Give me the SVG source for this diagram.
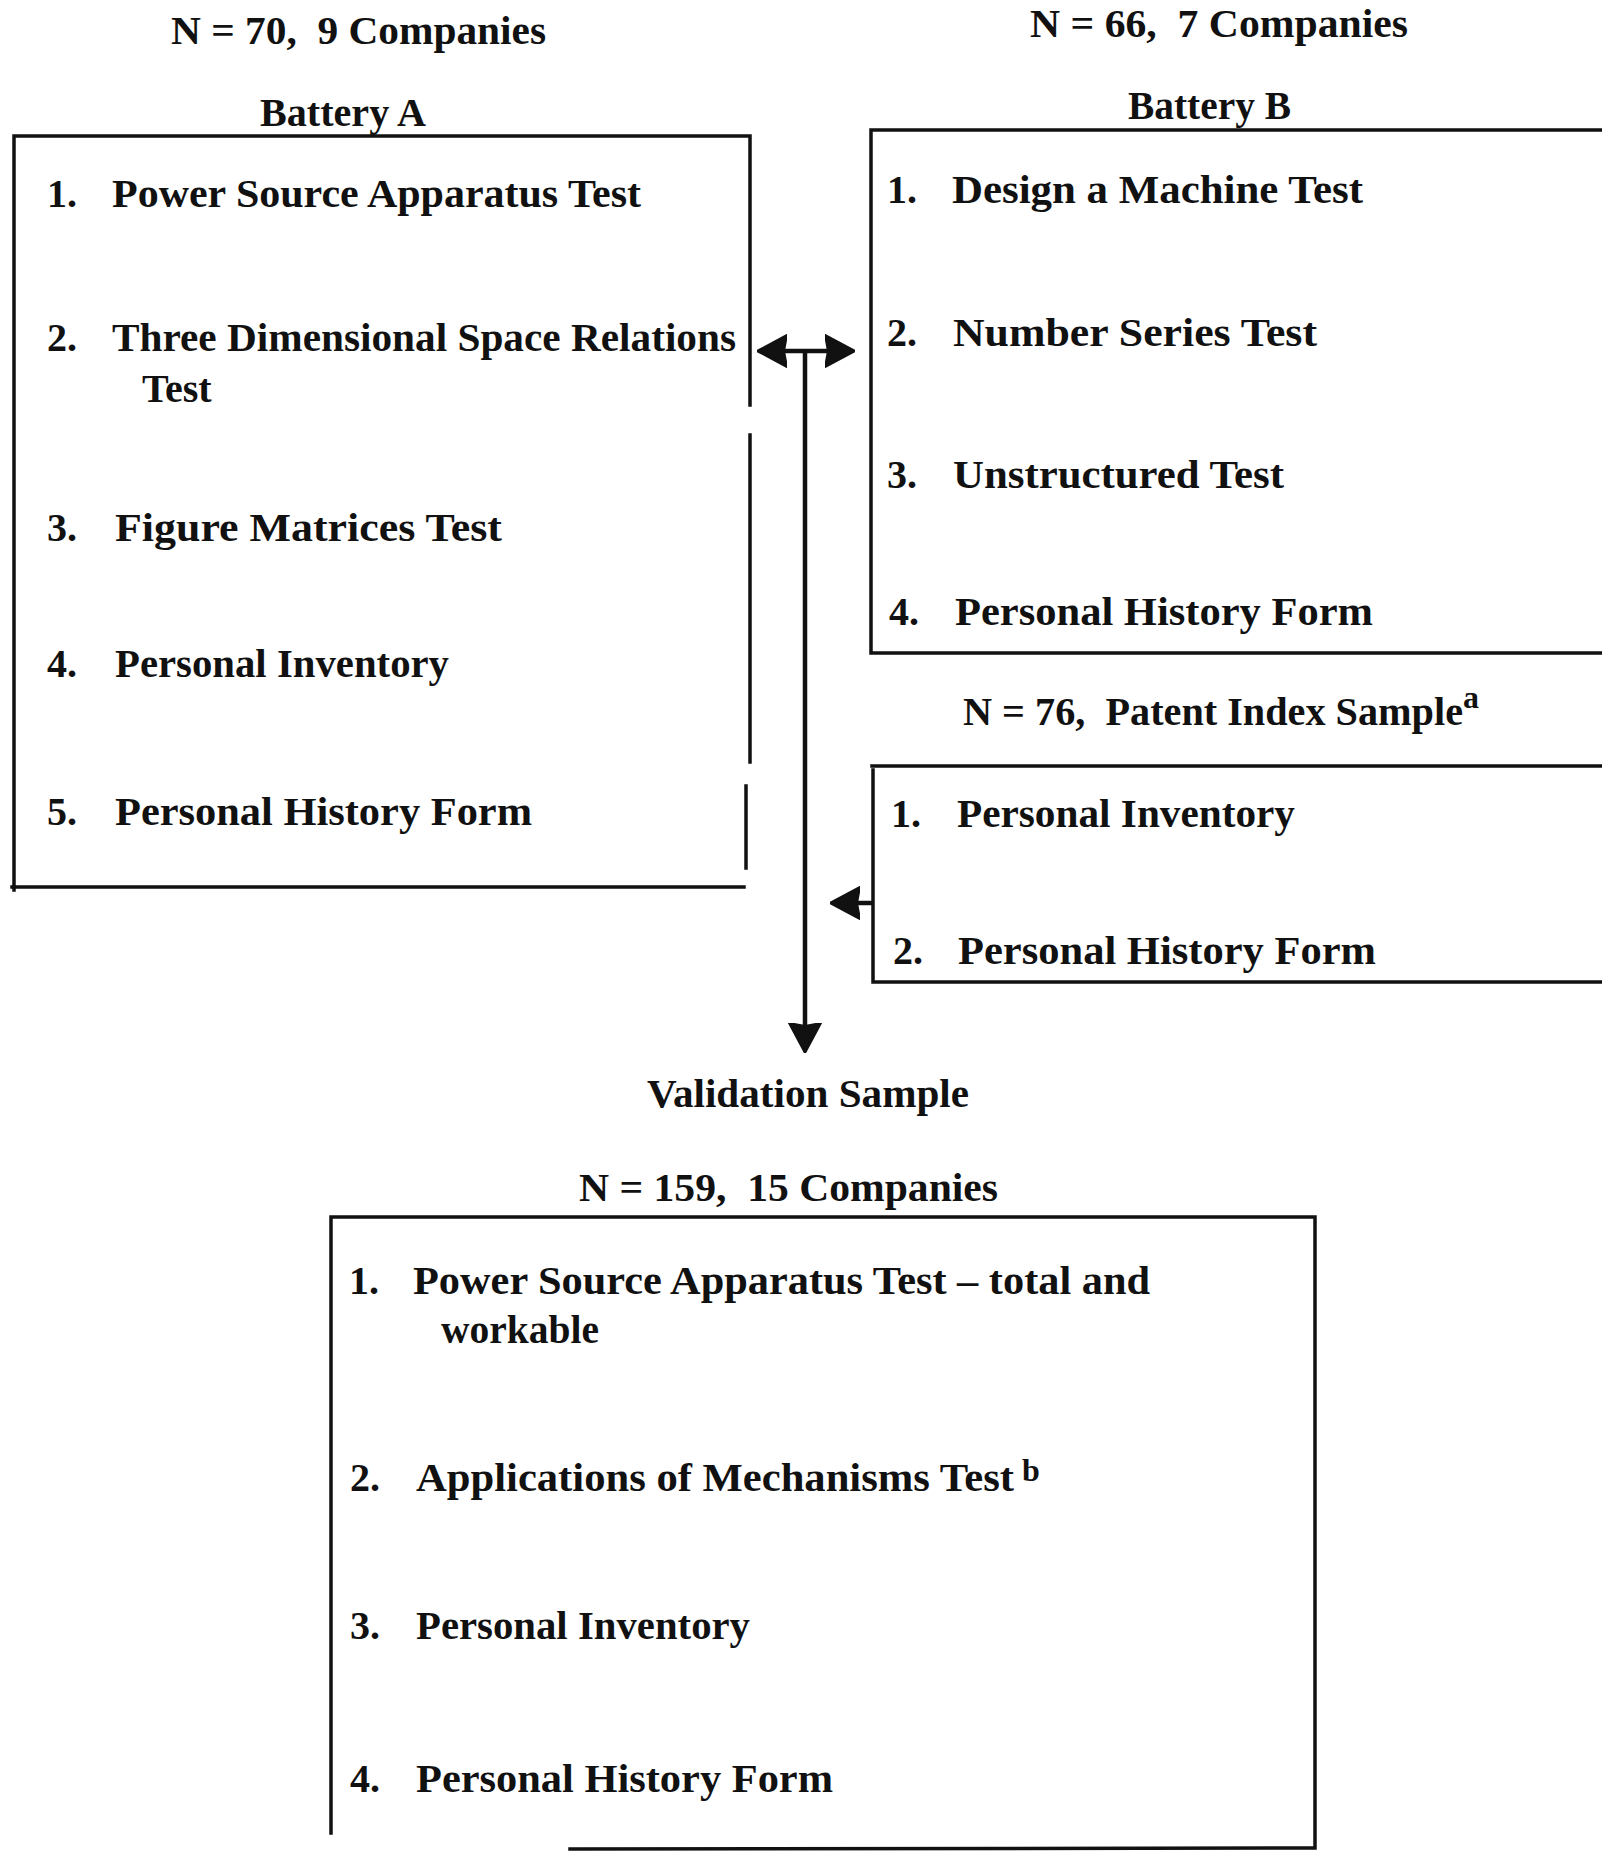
<svg xmlns="http://www.w3.org/2000/svg" width="1602" height="1853" viewBox="0 0 1602 1853">
<style>
.t{font-family:"Liberation Serif","Times New Roman",serif;font-weight:bold;font-size:40px;fill:#111}
.h{font-family:"Liberation Serif","Times New Roman",serif;font-weight:bold;font-size:39px;fill:#111}
.s{font-family:"Liberation Serif","Times New Roman",serif;font-weight:bold;font-size:32px;fill:#111}
.b{fill:none;stroke:#111;stroke-width:3.5;stroke-linecap:square}
.c{fill:none;stroke:#111;stroke-width:4.5}
</style>
<defs>
<marker id="ah" viewBox="0 0 30 36" refX="6" refY="18" markerWidth="30" markerHeight="36" markerUnits="userSpaceOnUse" orient="auto-start-reverse">
<path d="M0,2 L30,18 L0,34 L3,18 Z" fill="#111" stroke="#111" stroke-width="2" stroke-linejoin="round"/>
</marker>
</defs>
<rect width="1602" height="1853" fill="#fff"/>

<g id="batteryA">
<text class="h" x="171" y="44" textLength="375" lengthAdjust="spacingAndGlyphs">N = 70,&#160; 9 Companies</text>
<text class="h" x="260" y="126" textLength="166" lengthAdjust="spacingAndGlyphs">Battery A</text>
<path class="b" d="M14,136 L750,136 L750,405 M750,435 L750,762 M746,786 L746,868 M744,887 L12,887 M14,890 L14,136"/>
<text class="t" x="47" y="207">1.</text>
<text class="t" x="112" y="207" textLength="529" lengthAdjust="spacingAndGlyphs">Power Source Apparatus Test</text>
<text class="t" x="47" y="351">2.</text>
<text class="t" x="112" y="351" textLength="624" lengthAdjust="spacingAndGlyphs">Three Dimensional Space Relations</text>
<text class="t" x="142" y="402">Test</text>
<text class="t" x="47" y="541">3.</text>
<text class="t" x="115" y="541" textLength="387" lengthAdjust="spacingAndGlyphs">Figure Matrices Test</text>
<text class="t" x="47" y="677">4.</text>
<text class="t" x="115" y="677" textLength="334" lengthAdjust="spacingAndGlyphs">Personal Inventory</text>
<text class="t" x="47" y="825">5.</text>
<text class="t" x="115" y="825" textLength="417" lengthAdjust="spacingAndGlyphs">Personal History Form</text>
</g>

<g id="batteryB">
<text class="h" x="1030" y="37" textLength="378" lengthAdjust="spacingAndGlyphs">N = 66,&#160; 7 Companies</text>
<text class="h" x="1128" y="119" textLength="163" lengthAdjust="spacingAndGlyphs">Battery B</text>
<path class="b" d="M1602,130 L871,130 L871,653 L1602,653"/>
<text class="t" x="887" y="203">1.</text>
<text class="t" x="952" y="203" textLength="411" lengthAdjust="spacingAndGlyphs">Design a Machine Test</text>
<text class="t" x="887" y="346">2.</text>
<text class="t" x="953" y="346" textLength="364" lengthAdjust="spacingAndGlyphs">Number Series Test</text>
<text class="t" x="887" y="488">3.</text>
<text class="t" x="953" y="488" textLength="331" lengthAdjust="spacingAndGlyphs">Unstructured Test</text>
<text class="t" x="889" y="625">4.</text>
<text class="t" x="955" y="625" textLength="418" lengthAdjust="spacingAndGlyphs">Personal History Form</text>
</g>

<g id="patentIndex">
<text class="h" x="963" y="725" textLength="500" lengthAdjust="spacingAndGlyphs">N = 76,&#160; Patent Index Sample</text>
<text class="s" x="1463" y="708">a</text>
<path class="b" d="M1602,766 L872,766 M873,770 L873,982 L1602,982"/>
<text class="t" x="891" y="827">1.</text>
<text class="t" x="957" y="827" textLength="338" lengthAdjust="spacingAndGlyphs">Personal Inventory</text>
<text class="t" x="893" y="964">2.</text>
<text class="t" x="958" y="964" textLength="418" lengthAdjust="spacingAndGlyphs">Personal History Form</text>
</g>

<g id="validation">
<text class="h" x="647" y="1107" textLength="322" lengthAdjust="spacingAndGlyphs">Validation Sample</text>
<text class="h" x="579" y="1201" textLength="419" lengthAdjust="spacingAndGlyphs">N = 159,&#160; 15 Companies</text>
<path class="b" d="M331,1833 L331,1217 L1315,1217 L1315,1848 L570,1849"/>
<text class="t" x="349" y="1294">1.</text>
<text class="t" x="413" y="1294" textLength="737" lengthAdjust="spacingAndGlyphs">Power Source Apparatus Test – total and</text>
<text class="t" x="441" y="1343" textLength="158" lengthAdjust="spacingAndGlyphs">workable</text>
<text class="t" x="350" y="1491">2.</text>
<text class="t" x="416" y="1491" textLength="598" lengthAdjust="spacingAndGlyphs">Applications of Mechanisms Test</text>
<text class="s" x="1022" y="1481">b</text>
<text class="t" x="350" y="1639">3.</text>
<text class="t" x="416" y="1639" textLength="334" lengthAdjust="spacingAndGlyphs">Personal Inventory</text>
<text class="t" x="350" y="1792">4.</text>
<text class="t" x="416" y="1792" textLength="417" lengthAdjust="spacingAndGlyphs">Personal History Form</text>
</g>

<g id="connectors">
<path class="c" d="M781,351 L831,351" marker-start="url(#ah)" marker-end="url(#ah)"/>
<path class="c" d="M805,351 L805,1029" marker-end="url(#ah)"/>
<path class="c" d="M873,903 L854,903" marker-end="url(#ah)"/>
</g>
</svg>
